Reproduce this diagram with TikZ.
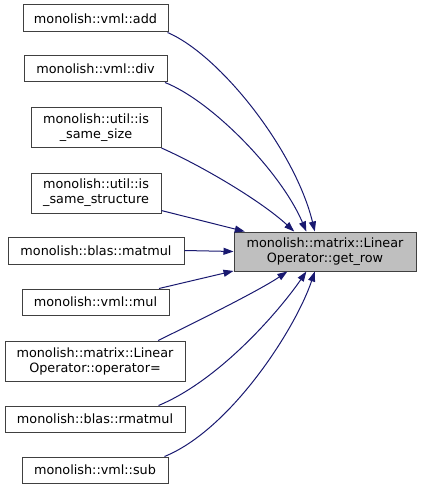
\documentclass[tikz,border=0pt]{standalone}
\usepackage{fontspec}
\setmainfont{DejaVu Sans}
\usetikzlibrary{arrows.meta}
\definecolor{edgeblue}{HTML}{191970}
\definecolor{boxgray}{HTML}{BFBFBF}

\begin{document}
\begin{tikzpicture}[x=1pt,y=-1pt,
  fn/.style={draw=black!75,line width=1pt,inner sep=0pt,align=center,
    font=\fontsize{12.8}{15}\selectfont},
  edge/.style={edgeblue,line width=1pt,-{Triangle[length=10pt,width=7pt]}}]
   \useasboundingbox (0,0) rectangle (421,489);
   \node[fn,minimum width=145,minimum height=27] (add) at (95.5,18.5) {monolish::vml::add};
   \node[fn,minimum width=143,minimum height=26] (div) at (95.5,69) {monolish::vml::div};
   \node[fn,minimum width=130,minimum height=40] (samesize) at (96,128) {monolish::util::is\\\_same\_size};
   \node[fn,minimum width=130,minimum height=40] (samestruct) at (96,193) {monolish::util::is\\\_same\_structure};
   \node[fn,minimum width=176,minimum height=27] (matmul) at (96,250.5) {monolish::blas::matmul};
   \node[fn,minimum width=147,minimum height=26] (mul) at (95.5,302) {monolish::vml::mul};
   \node[fn,minimum width=180,minimum height=40] (opeq) at (95,361) {monolish::matrix::Linear\\Operator::operator=};
   \node[fn,minimum width=180,minimum height=26] (rmatmul) at (95,419) {monolish::blas::rmatmul};
   \node[fn,minimum width=146,minimum height=26] (sub) at (95,470) {monolish::vml::sub};
   \node[fn,fill=boxgray,minimum width=182,minimum height=39] (getrow) at (325,251.5) {monolish::matrix::Linear\\Operator::get\_row};

   \draw[edge] (add.-11) .. controls (220,55) and (295,150) .. (getrow.117);
   \draw[edge] (div.-11) .. controls (210,100) and (280,170) .. (getrow.133);
   \draw[edge] (samesize.-17) .. controls (200,165) and (260,200) .. (getrow.147);
   \draw[edge] (samestruct.-15) -- (getrow.166);
   \draw[edge] (matmul.east) -- (getrow.west);
   \draw[edge] (mul.12) -- (getrow.192);
   \draw[edge] (opeq.18) .. controls (200,320) and (260,290) .. (getrow.208);
   \draw[edge] (rmatmul.12) .. controls (220,380) and (280,310) .. (getrow.227);
   \draw[edge] (sub.11) .. controls (230,430) and (295,330) .. (getrow.243);
\end{tikzpicture}
\end{document}
